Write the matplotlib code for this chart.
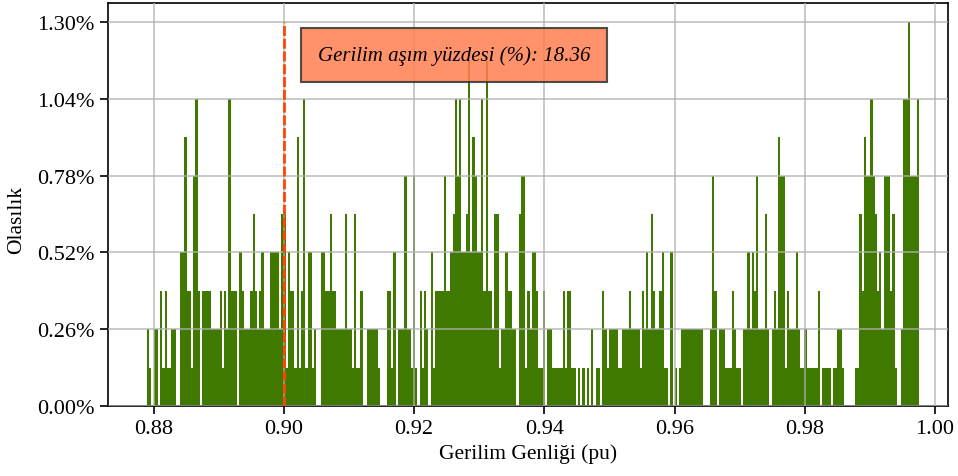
import numpy as np
import matplotlib
matplotlib.use('Agg')
from matplotlib import pyplot as plt

plt.rcParams['font.family'] = ['Liberation Serif', 'DejaVu Serif']

# bin counts of the voltage magnitude samples, split by range
counts_088 = [2, 1, 0, 2, 2, 0, 3, 1, 3, 1, 1, 2, 2, 0, 0, 4, 4, 7, 3, 3,
              1, 6, 8, 3, 0, 3, 3, 3, 3, 2, 2, 2, 2, 3, 1, 3, 2, 8, 3, 3,
              3, 0, 4, 3, 2, 2, 2, 3, 5, 3, 2, 3, 4, 2, 2, 2, 4]
counts_090 = [4, 4, 4, 2, 5, 5, 1, 4, 3, 3, 1, 7, 1, 3, 8, 1, 4, 4, 1, 2,
              0, 0, 4, 4, 3, 3, 5, 3, 3, 2, 2, 2, 2, 5, 2, 2, 1, 5, 1, 1,
              3, 0, 0, 2, 2, 2, 2, 2, 1, 0, 0, 0, 3, 3, 1, 4, 0, 2]
counts_092 = [2, 2, 6, 2, 2, 1, 6, 1, 0, 3, 1, 3, 2, 0, 4, 1, 3, 3, 3, 3,
              6, 3, 3, 4, 5, 8, 6, 8, 4, 4, 5, 9, 4, 7, 6, 4, 4, 8, 3, 9,
              3, 3, 2, 5, 5, 1, 2, 2, 4, 3, 3, 2, 2, 0, 5, 6, 6, 1]
counts_094 = [3, 2, 4, 4, 3, 1, 1, 3, 0, 2, 2, 1, 1, 1, 1, 1, 3, 1, 3, 3,
              1, 1, 0, 1, 0, 1, 0, 1, 0, 2, 0, 1, 1, 0, 3, 2, 1, 2, 2, 2,
              2, 1, 1, 2, 2, 2, 3, 2, 2, 2, 2, 1, 3, 2, 4, 2, 5, 3]
counts_096 = [2, 2, 3, 4, 1, 1, 0, 4, 0, 1, 0, 1, 2, 2, 2, 2, 2, 2, 2, 2,
              2, 2, 0, 0, 0, 2, 6, 3, 0, 2, 2, 2, 1, 1, 1, 3, 2, 1, 1, 0,
              2, 2, 4, 2, 4, 3, 6, 2, 2, 2, 5, 2, 0, 2, 3, 2, 7, 6]
counts_098 = [6, 1, 3, 2, 2, 2, 4, 2, 1, 1, 2, 1, 1, 1, 1, 1, 3, 0, 1, 1,
              1, 1, 0, 1, 1, 2, 2, 1, 0, 0, 0, 0, 0, 1, 1, 5, 3, 7, 6, 6,
              8, 6, 5, 3, 4, 2, 6, 6, 6, 3, 5, 1, 0, 0, 2, 8, 8, 10, 6, 6,
              6, 8]

v_min, v_max = 0.879, 0.9975   # range covered by the bins (pu)
n_samples = 768
limit = 0.90
over_pct = 18.36

counts = np.array(counts_088 + counts_090 + counts_092 + counts_094
                  + counts_096 + counts_098)
edges = np.linspace(v_min, v_max, len(counts) + 1)
probs = counts / n_samples * 100

fig = plt.figure(figsize=(9.58, 4.77), dpi=100)
ax = fig.add_axes([0.1127, 0.1468, 0.877, 0.8448])

ax.bar(edges[:-1], probs, width=np.diff(edges), align='edge',
       color='#3f7900', linewidth=0)
# under-voltage limit, up to the highest bar
ax.vlines(limit, 0, probs.max(), color='#ff4500', linestyle=(0, (3.6, 1.0)),
          linewidth=2, zorder=4)

ax.set_xlim(0.873, 1.002)
ax.set_ylim(0, probs.max() * 1.05)
ax.set_yticks(np.linspace(0, probs.max(), 6))
ax.yaxis.set_major_formatter(matplotlib.ticker.FormatStrFormatter('%.2f%%'))
ax.set_xticks([0.88, 0.90, 0.92, 0.94, 0.96, 0.98, 1.00])
ax.set_xticklabels(['0.88', '0.90', '0.92', '0.94', '0.96', '0.98', '1.00'])

ax.grid(True, color='#b0b0b0', linewidth=1.2, alpha=0.8, zorder=3)
ax.set_axisbelow(False)
ax.tick_params(labelsize=16, length=6, width=1.2)
for s in ax.spines.values():
  s.set_linewidth(1.2)

ax.set_xlabel('Gerilim Genliği (pu)', fontsize=15.5)
ax.set_ylabel('Olasılık', fontsize=15.5)
ax.yaxis.set_label_coords(-0.098, 0.465)

ax.text(0.412, 0.871, 'Gerilim aşım yüzdesi (%%): %.2f' % over_pct,
        transform=ax.transAxes, ha='center', va='center', fontsize=15,
        style='italic', zorder=5,
        bbox=dict(boxstyle='square,pad=0.8', facecolor='#ff7f50', alpha=0.85,
                  edgecolor='#333333', linewidth=1.5))

fig.savefig('out.png', dpi=100)
